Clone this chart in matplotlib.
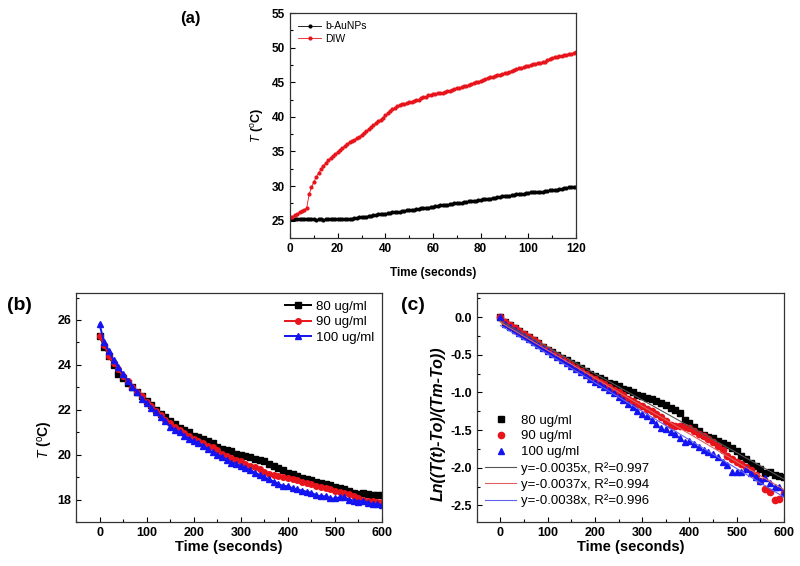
import numpy as np
import matplotlib
matplotlib.use("Agg")
import matplotlib.pyplot as plt
from matplotlib.ticker import MultipleLocator

plt.rcParams['font.family'] = ['Liberation Sans', 'DejaVu Sans']
plt.rcParams['mathtext.fontset'] = 'custom'
plt.rcParams['mathtext.rm'] = 'Liberation Sans'
plt.rcParams['mathtext.it'] = 'Liberation Sans:italic'
plt.rcParams['mathtext.bf'] = 'Liberation Sans:bold'

# ---------------- data (a) ----------------
time_a = list(range(0, 121))
aunps_T = [25.2, 25.3, 25.2, 25.2, 25.3, 25.2, 25.2, 25.2, 25.3, 25.2,
           25.2, 25.1, 25.2, 25.2, 25.1, 25.2, 25.2, 25.2, 25.2, 25.2,
           25.2, 25.3, 25.2, 25.3, 25.3, 25.3, 25.3, 25.4, 25.4, 25.5,
           25.5, 25.6, 25.6, 25.7, 25.7, 25.8, 25.8, 25.9, 25.9, 26.0,
           26.0, 26.1, 26.1, 26.2, 26.2, 26.3, 26.3, 26.4, 26.4, 26.5,
           26.5, 26.6, 26.6, 26.7, 26.7, 26.8, 26.8, 26.9, 26.9, 27.0,
           27.0, 27.1, 27.1, 27.2, 27.2, 27.3, 27.3, 27.4, 27.4, 27.5,
           27.5, 27.6, 27.6, 27.7, 27.7, 27.8, 27.8, 27.9, 27.9, 28.0,
           28.0, 28.1, 28.1, 28.2, 28.2, 28.3, 28.3, 28.4, 28.4, 28.5,
           28.5, 28.6, 28.6, 28.7, 28.7, 28.8, 28.8, 28.9, 28.9, 29.0,
           29.0, 29.1, 29.1, 29.1, 29.2, 29.2, 29.2, 29.3, 29.3, 29.4,
           29.4, 29.5, 29.5, 29.6, 29.6, 29.7, 29.7, 29.8, 29.8, 29.8,
           29.9]
diw_T = [25.5, 25.6, 25.8, 26.0, 26.2, 26.4, 26.6, 26.8, 28.8, 29.8,
         30.6, 31.3, 31.9, 32.4, 32.9, 33.3, 33.7, 34.0, 34.3, 34.6,
         34.9, 35.2, 35.5, 35.8, 36.1, 36.3, 36.5, 36.7, 36.9, 37.1,
         37.4, 37.7, 37.9, 38.2, 38.5, 38.8, 39.1, 39.4, 39.6, 39.9,
         40.2, 40.5, 40.8, 41.1, 41.3, 41.5, 41.7, 41.8, 41.9, 42.0,
         42.1, 42.2, 42.3, 42.4, 42.5, 42.7, 42.8, 42.9, 43.1, 43.2,
         43.3, 43.3, 43.4, 43.4, 43.5, 43.6, 43.7, 43.8, 43.9, 44.0,
         44.1, 44.2, 44.3, 44.4, 44.5, 44.6, 44.8, 44.9, 45.0, 45.1,
         45.2, 45.3, 45.4, 45.6, 45.7, 45.8, 45.9, 46.0, 46.1, 46.2,
         46.3, 46.4, 46.5, 46.6, 46.8, 46.9, 47.0, 47.1, 47.2, 47.3,
         47.4, 47.5, 47.6, 47.7, 47.8, 47.8, 47.9, 47.9, 48.2, 48.4,
         48.5, 48.6, 48.7, 48.8, 48.8, 48.9, 49.0, 49.1, 49.1, 49.2,
         49.3]

# ---------------- data (b) ----------------
time_b = list(range(0, 601, 10))
labels_bc = ["80 ug/ml", "90 ug/ml", "100 ug/ml"]
T_80 = [25.3, 24.8, 24.4, 24.0, 23.6, 23.4, 23.2, 23.0, 22.8, 22.6,
        22.4, 22.2, 22.0, 21.8, 21.7, 21.5, 21.35, 21.2, 21.1, 21.0,
        20.85, 20.8, 20.7, 20.6, 20.5, 20.35, 20.25, 20.2, 20.15, 20.05,
        20.0, 19.95, 19.9, 19.8, 19.75, 19.7, 19.6, 19.5, 19.4, 19.3,
        19.2, 19.15, 19.05, 18.95, 18.9, 18.85, 18.8, 18.75, 18.7, 18.65,
        18.55, 18.5, 18.45, 18.4, 18.3, 18.25, 18.3, 18.25, 18.2, 18.2, 18.2]
T_90 = [25.3, 24.9, 24.4, 24.1, 23.8, 23.5, 23.3, 23.0, 22.8, 22.6,
        22.35, 22.15, 21.95, 21.75, 21.55, 21.4, 21.25, 21.1, 20.95, 20.85,
        20.7, 20.6, 20.5, 20.4, 20.35, 20.2, 20.05, 19.95, 19.85, 19.75,
        19.7, 19.6, 19.5, 19.45, 19.35, 19.25, 19.15, 19.1, 19.05, 19.0,
        18.95, 18.9, 18.85, 18.8, 18.75, 18.7, 18.6, 18.55, 18.5, 18.45,
        18.4, 18.35, 18.3, 18.25, 18.15, 18.05, 18.0, 17.95, 17.95, 17.9, 17.9]
T_100 = [25.8, 25.0, 24.6, 24.2, 23.9, 23.6, 23.3, 23.0, 22.8, 22.5,
         22.3, 22.1, 21.9, 21.7, 21.5, 21.25, 21.1, 21.0, 20.85, 20.7,
         20.6, 20.5, 20.4, 20.25, 20.1, 20.0, 19.9, 19.75, 19.65, 19.6,
         19.5, 19.4, 19.3, 19.2, 19.1, 19.0, 18.9, 18.8, 18.7, 18.6,
         18.6, 18.5, 18.45, 18.4, 18.35, 18.3, 18.2, 18.15, 18.15, 18.05,
         18.05, 18.1, 18.1, 18.0, 17.95, 17.9, 17.95, 17.85, 17.8, 17.8, 17.75]

# ---------------- data (c) ----------------
ln_80 = [0.0, -0.07, -0.11, -0.15, -0.19, -0.23, -0.27, -0.31, -0.35, -0.39,
         -0.43, -0.46, -0.50, -0.54, -0.57, -0.61, -0.64, -0.68, -0.71, -0.75,
         -0.78, -0.81, -0.84, -0.87, -0.89, -0.92, -0.95, -0.97, -1.00, -1.03,
         -1.05, -1.07, -1.09, -1.12, -1.14, -1.17, -1.20, -1.23, -1.27, -1.37,
         -1.41, -1.46, -1.51, -1.56, -1.59, -1.61, -1.64, -1.67, -1.70, -1.74,
         -1.78, -1.84, -1.88, -1.93, -1.97, -2.02, -2.07, -2.06, -2.09, -2.11, -2.12]
ln_90 = [0.0, -0.06, -0.10, -0.15, -0.19, -0.23, -0.27, -0.31, -0.35, -0.39,
         -0.43, -0.47, -0.51, -0.55, -0.59, -0.63, -0.67, -0.71, -0.75, -0.79,
         -0.82, -0.86, -0.89, -0.93, -0.97, -1.00, -1.04, -1.09, -1.12, -1.15,
         -1.18, -1.22, -1.25, -1.29, -1.33, -1.38, -1.43, -1.44, -1.45, -1.46,
         -1.47, -1.51, -1.55, -1.58, -1.62, -1.66, -1.71, -1.76, -1.84, -1.88,
         -1.92, -1.95, -1.99, -2.03, -2.09, -2.18, -2.28, -2.32, -2.43, -2.41, -2.34]
ln_100 = [0.0, -0.09, -0.13, -0.17, -0.21, -0.25, -0.29, -0.33, -0.37, -0.41,
          -0.45, -0.49, -0.53, -0.57, -0.61, -0.65, -0.69, -0.73, -0.77, -0.82,
          -0.86, -0.89, -0.93, -0.97, -1.01, -1.06, -1.10, -1.15, -1.19, -1.24,
          -1.28, -1.31, -1.36, -1.42, -1.47, -1.49, -1.52, -1.55, -1.60, -1.66,
          -1.65, -1.69, -1.73, -1.76, -1.79, -1.82, -1.86, -1.92, -1.96, -2.06,
          -2.06, -2.05, -2.01, -2.07, -2.12, -2.17, -2.13, -2.20, -2.26, -2.26, -2.33]
fit_slopes = [-0.0035, -0.0037, -0.0038]
fit_intercepts = [-0.05, -0.07, -0.11]
fit_labels = ["y=-0.0035x, R\u00b2=0.997", "y=-0.0037x, R\u00b2=0.994", "y=-0.0038x, R\u00b2=0.996"]

colors = ["black", "#e8141b", "#1414f0"]
markers = ["s", "o", "^"]

fig = plt.figure(figsize=(8, 5.66), dpi=100)


def style_axes(ax, fs):
    ax.tick_params(which='both', direction='in', top=False, right=False,
                   labelsize=fs, width=0.8)
    ax.tick_params(which='major', length=3.5)
    ax.tick_params(which='minor', length=2)
    for lab in ax.get_xticklabels() + ax.get_yticklabels():
        lab.set_fontweight('bold')
    for s in ax.spines.values():
        s.set_linewidth(0.9)
        s.set_color('#333333')


# ---------- (a) ----------
axa = fig.add_axes([0.3625, 0.5795, 0.3575, 0.3975])
axa.plot(time_a, aunps_T, color='black', marker='o', ms=2.0, lw=0.6, label='b-AuNPs')
axa.plot(time_a, diw_T, color='#e8141b', marker='o', ms=2.0, lw=0.6, label='DIW')
axa.set_xlim(0, 120)
axa.set_ylim(22.5, 55)
axa.xaxis.set_major_locator(MultipleLocator(20))
axa.xaxis.set_minor_locator(MultipleLocator(10))
axa.yaxis.set_major_locator(MultipleLocator(5))
axa.yaxis.set_minor_locator(MultipleLocator(2.5))
style_axes(axa, 8.5)
axa.set_xlabel('Time (seconds)', fontsize=8.5, fontweight='bold', labelpad=9)
axa.set_ylabel(r'$\mathit{T}$ ($^\mathrm{o}$C)', fontsize=9, fontweight='bold', labelpad=4)
axa.legend(loc='upper left', frameon=False, fontsize=7.5, handlelength=2.2,
           handletextpad=0.4, labelspacing=0.25, borderaxespad=0.4)
fig.text(0.2375, 0.968, '(a)', fontsize=12, fontweight='bold', ha='center', va='center')

# ---------- (b) ----------
axb = fig.add_axes([0.095, 0.0777, 0.3825, 0.4046])
for y, c, m, l in zip([T_80, T_90, T_100], colors, markers, labels_bc):
    axb.plot(time_b, y, color=c, marker=m, ms=4, lw=1.4, label=l)
axb.set_xlim(-50, 600)
axb.set_ylim(17.0, 27.2)
axb.xaxis.set_major_locator(MultipleLocator(100))
axb.xaxis.set_minor_locator(MultipleLocator(50))
axb.yaxis.set_major_locator(MultipleLocator(2))
axb.yaxis.set_minor_locator(MultipleLocator(1))
style_axes(axb, 9)
axb.set_xlabel('Time (seconds)', fontsize=10.5, fontweight='bold', labelpad=1)
axb.set_ylabel(r'$\mathit{T}$ ($^\mathrm{o}$C)', fontsize=10, fontweight='bold')
axb.yaxis.set_label_coords(-0.07, 0.36)
axb.legend(loc='upper right', frameon=False, fontsize=9.5, handlelength=2.0,
           handletextpad=0.4, labelspacing=0.27, borderaxespad=0.15)
fig.text(0.024, 0.461, '(b)', fontsize=14, fontweight='bold', ha='center', va='center')

# ---------- (c) ----------
axc = fig.add_axes([0.596, 0.0777, 0.384, 0.4046])
pts = []
for y, c, m, l in zip([ln_80, ln_90, ln_100], colors, markers, labels_bc):
    h, = axc.plot(time_b, y, color=c, marker=m, ms=4.5, ls='none', label=l)
    pts.append(h)
fit_x = np.array([0, 600])
fit_colors = ["#555555", "#e06060", "#6060f0"]
lines = []
for s, b, c, l in zip(fit_slopes, fit_intercepts, fit_colors, fit_labels):
    h, = axc.plot(fit_x, b + s * fit_x, color=c, lw=0.8, label=l)
    lines.append(h)
axc.set_xlim(-50, 600)
axc.set_ylim(-2.72, 0.32)
axc.xaxis.set_major_locator(MultipleLocator(100))
axc.xaxis.set_minor_locator(MultipleLocator(50))
axc.yaxis.set_major_locator(MultipleLocator(0.5))
axc.yaxis.set_minor_locator(MultipleLocator(0.25))
axc.yaxis.set_major_formatter(matplotlib.ticker.FormatStrFormatter('%.1f'))
style_axes(axc, 9)
axc.set_xlabel('Time (seconds)', fontsize=10.5, fontweight='bold', labelpad=1)
axc.set_ylabel('Ln((T(t)-To)/(Tm-To))', fontsize=11.5, fontweight='bold', style='italic')
axc.yaxis.set_label_coords(-0.1, 0.43)
axc.legend(pts + lines, labels_bc + fit_labels, loc='upper left', bbox_to_anchor=(0.0, 0.505),
           frameon=False, fontsize=9.5, handlelength=2.4, handletextpad=0.35,
           labelspacing=0.27, borderaxespad=0.2)
fig.text(0.516, 0.461, '(c)', fontsize=14, fontweight='bold', ha='center', va='center')

fig.savefig('out.png', dpi=100)
